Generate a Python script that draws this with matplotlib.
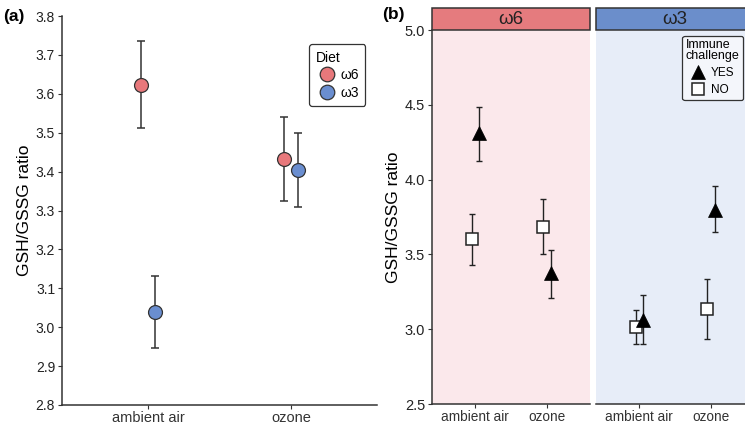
import matplotlib
matplotlib.use("Agg")
from matplotlib import pyplot as plt
from matplotlib.lines import Line2D
from matplotlib.patches import Rectangle

plt.rcParams['font.family'] = ['Liberation Sans', 'DejaVu Sans']

# panel (a): diet x exposure
exposures = ["ambient air", "ozone"]
diets = ["ω6", "ω3"]
a_mean = {"ω6": [3.623, 3.432], "ω3": [3.039, 3.404]}
a_low = {"ω6": [3.512, 3.325], "ω3": [2.947, 3.308]}
a_high = {"ω6": [3.737, 3.540], "ω3": [3.132, 3.500]}

# panel (b): immune challenge within each diet
challenge = ["YES", "NO"]
b_mean = {
    "ω6": {"NO": [3.601, 3.685], "YES": [4.309, 3.374]},
    "ω3": {"NO": [3.017, 3.133], "YES": [3.060, 3.800]},
}
b_low = {
    "ω6": {"NO": [3.431, 3.505], "YES": [4.126, 3.206]},
    "ω3": {"NO": [2.901, 2.933], "YES": [2.900, 3.648]},
}
b_high = {
    "ω6": {"NO": [3.770, 3.868], "YES": [4.487, 3.529]},
    "ω3": {"NO": [3.128, 3.333], "YES": [3.229, 3.957]},
}

diet_colors = {"ω6": "#E8787B", "ω3": "#6A8ED0"}
strip_colors = {"ω6": "#E57B7E", "ω3": "#6B8ECB"}
panel_bg = {"ω6": "#FBE8EB", "ω3": "#E7EDF8"}
ink = "#333333"

fig = plt.figure(figsize=(7.45, 4.25), dpi=100)

# ---------- (a) ----------
ax = fig.add_axes([62 / 745, 1 - 405 / 425, 315 / 745, 389 / 425])
offs = {"ω6": -0.05, "ω3": 0.05}
for d in diets:
    xs = [i + 1 + offs[d] for i in range(len(exposures))]
    m = a_mean[d]
    yerr = [[m[i] - a_low[d][i] for i in range(2)], [a_high[d][i] - m[i] for i in range(2)]]
    ax.errorbar(xs, m, yerr=yerr, fmt="none", ecolor=ink, elinewidth=1.1,
                capsize=3, capthick=1.1, zorder=2)
    ax.plot(xs, m, "o", ms=10, mfc=diet_colors[d], mec=ink, mew=0.9,
            ls="none", zorder=3)
ax.set_xlim(0.4, 2.6)
ax.set_ylim(2.8, 3.8)
ax.set_yticks([2.8, 2.9, 3.0, 3.1, 3.2, 3.3, 3.4, 3.5, 3.6, 3.7, 3.8])
ax.set_xticks([1, 2])
ax.set_xticklabels(exposures, fontsize=10.5, color="#222222")
ax.tick_params(axis="y", labelsize=10, colors=ink, length=3, pad=2)
ax.tick_params(axis="x", colors=ink, length=3, pad=1)
for lab in ax.get_yticklabels():
    lab.set_color("#222222")
ax.spines[["top", "right"]].set_visible(False)
ax.spines[["left", "bottom"]].set_color(ink)
ax.spines[["left", "bottom"]].set_linewidth(1.1)
ax.set_ylabel("GSH/GSSG ratio", fontsize=12.5, labelpad=3)
handles = [Line2D([], [], marker="o", ls="none", ms=10.5, mfc=diet_colors[d],
                  mec=ink, mew=0.9, label=d) for d in diets]
leg = ax.legend(handles=handles, title="Diet", loc="upper right",
                bbox_to_anchor=(0.985, 0.945), fontsize=10, title_fontsize=10,
                frameon=True, fancybox=True, edgecolor=ink, framealpha=1,
                handletextpad=0.2, borderpad=0.45, labelspacing=0.25,
                alignment="left", handlelength=1.6)
leg.get_frame().set_linewidth(0.9)
fig.text(3 / 745, 1 - 16 / 425, "(a)", fontsize=12.5, fontweight="bold", va="center")

# ---------- (b) ----------
facet_left = {"ω6": 432, "ω3": 596}
boffs = {"NO": -0.05, "YES": 0.05}
mstyle = {"NO": dict(marker="s", ms=8, mfc="white", mec="#222222", mew=1.1),
          "YES": dict(marker="^", ms=9.5, mfc="black", mec="black", mew=0.5)}
for k, d in enumerate(diets):
    bx = fig.add_axes([facet_left[d] / 745, 1 - 404 / 425, 158 / 745, 374 / 425])
    bx.set_facecolor(panel_bg[d])
    for c in ["NO", "YES"]:
        xs = [i + 1 + boffs[c] for i in range(len(exposures))]
        m = b_mean[d][c]
        yerr = [[m[i] - b_low[d][c][i] for i in range(2)],
                [b_high[d][c][i] - m[i] for i in range(2)]]
        bx.errorbar(xs, m, yerr=yerr, fmt="none", ecolor="#222222",
                    elinewidth=1.0, capsize=2, capthick=1.0, zorder=2)
        bx.plot(xs, m, ls="none", zorder=3, **mstyle[c])
    bx.set_xlim(0.4, 2.6)
    bx.set_ylim(2.5, 5.0)
    bx.set_xticks([1, 2])
    bx.set_xticklabels(exposures, fontsize=9.8, color="#222222")
    bx.tick_params(axis="x", colors=ink, length=3, pad=1)
    bx.spines[["top", "right"]].set_visible(False)
    bx.spines["bottom"].set_color(ink)
    bx.spines["bottom"].set_linewidth(1.1)
    if k == 0:
        bx.set_yticks([2.5, 3.0, 3.5, 4.0, 4.5, 5.0])
        bx.tick_params(axis="y", labelsize=10.5, colors=ink, length=3, pad=2)
        for lab in bx.get_yticklabels():
            lab.set_color("#222222")
        bx.spines["left"].set_color(ink)
        bx.spines["left"].set_linewidth(1.1)
        bx.set_ylabel("GSH/GSSG ratio", fontsize=12.5, labelpad=3)
    else:
        bx.spines["left"].set_visible(False)
        bx.set_yticks([])
    # facet strip
    strip = Rectangle((0, 1.0), 1, 22 / 374, transform=bx.transAxes,
                      facecolor=strip_colors[d], edgecolor=ink, lw=1.1,
                      clip_on=False, zorder=5)
    bx.add_patch(strip)
    bx.text(0.5, 1.0 + 11 / 374, d, transform=bx.transAxes, ha="center",
            va="center", fontsize=13.5, color="#222222", zorder=6)
    if k == 1:
        h2 = [Line2D([], [], ls="none", label="YES", **mstyle["YES"]),
              Line2D([], [], ls="none", label="NO", **mstyle["NO"])]
        leg2 = bx.legend(handles=h2, title="Immune\nchallenge", loc="upper right",
                         bbox_to_anchor=(147 / 158, 0.985), fontsize=8.5, title_fontsize=9,
                         frameon=True, fancybox=True, edgecolor=ink, framealpha=1,
                         facecolor="#F4F6FB", handletextpad=0.15, borderpad=0.3,
                         labelspacing=0.45, alignment="left", handlelength=2.0,
                         borderaxespad=0)
        leg2.get_frame().set_linewidth(0.9)
        leg2.get_title().set_linespacing(0.85)

fig.text(382 / 745, 1 - 15 / 425, "(b)", fontsize=12.5, fontweight="bold", va="center")

fig.savefig("out.png", dpi=100)
